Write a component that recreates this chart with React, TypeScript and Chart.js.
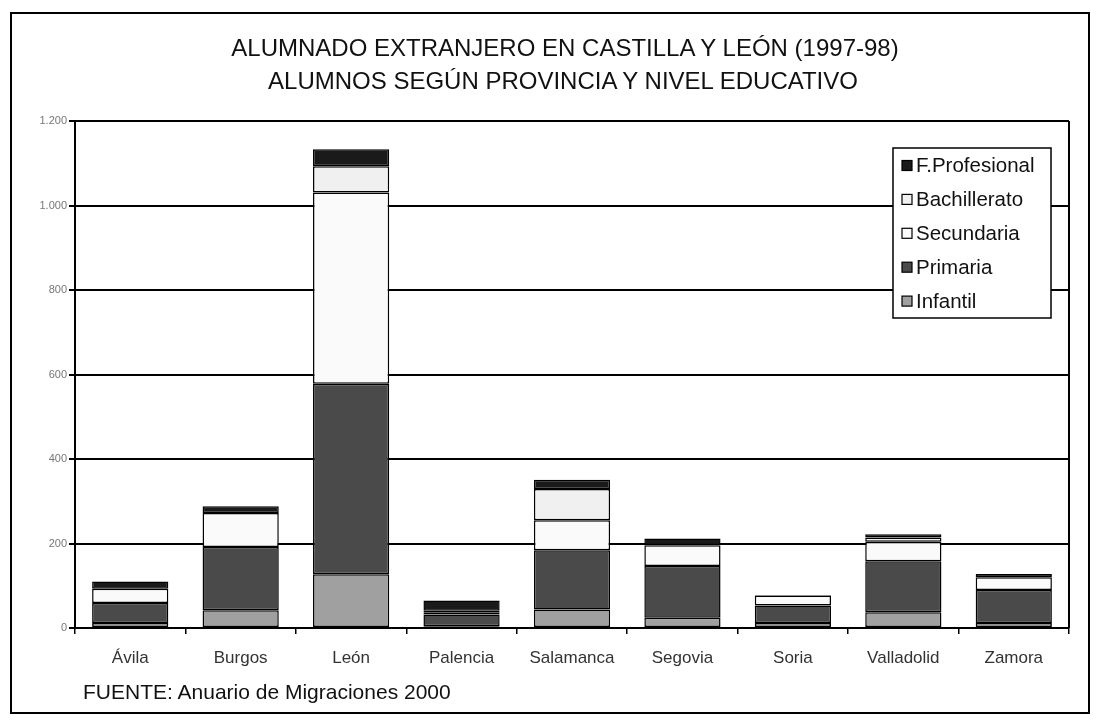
import React, { useEffect, useRef } from "react";
import { Chart, registerables } from "chart.js";

Chart.register(...registerables);

const categories = ["Ávila", "Burgos", "León", "Palencia", "Salamanca", "Segovia", "Soria", "Valladolid", "Zamora"];
const infantil = [12, 42, 127, 4, 44, 24, 12, 37, 12];
const primaria = [47, 150, 451, 28, 140, 123, 41, 121, 78];
const secundaria = [34, 80, 453, 5, 71, 49, 24, 46, 30];
const bachillerato = [null, null, 62, 4, 74, null, null, 10, null];
const fProfesional = [17, 16, 40, 24, 22, 16, 1, 8, 8];
const yTicks = [0, 200, 400, 600, 800, 1000, 1200];

const titleLine1 = "ALUMNADO EXTRANJERO EN CASTILLA Y LEÓN (1997-98)";
const titleLine2 = "ALUMNOS SEGÚN PROVINCIA Y NIVEL EDUCATIVO";
const sourceText = "FUENTE: Anuario de Migraciones 2000";

const FONT = "'Liberation Sans', Arial, sans-serif";

const frameAndLegend = {
  id: "frameAndLegend",
  afterDraw(chart: any) {
    const { ctx, chartArea } = chart;
    ctx.save();
    ctx.strokeStyle = "#000";
    ctx.lineWidth = 2;
    ctx.beginPath();
    ctx.moveTo(chartArea.right, chartArea.top);
    ctx.lineTo(chartArea.right, chartArea.bottom);
    ctx.stroke();
    const lx = 893, ly = 148, lw = 158, lh = 170;
    ctx.fillStyle = "#fff";
    ctx.fillRect(lx, ly, lw, lh);
    ctx.lineWidth = 1.5;
    ctx.strokeRect(lx, ly, lw, lh);
    const ds = chart.data.datasets.slice().reverse();
    ctx.font = `20.5px ${FONT}`;
    ctx.textBaseline = "middle";
    ds.forEach((d: any, i: number) => {
      const cy = 165.5 + i * 33.9;
      ctx.fillStyle = d.backgroundColor;
      ctx.fillRect(902, cy - 5, 10, 10);
      ctx.lineWidth = 1.2;
      ctx.strokeStyle = "#000";
      ctx.strokeRect(902, cy - 5, 10, 10);
      ctx.fillStyle = "#111";
      ctx.fillText(d.label, 916, cy + 1);
    });
    ctx.restore();
  },
};

export default function App() {
  const ref = useRef<HTMLCanvasElement>(null);
  useEffect(() => {
    if (!ref.current) return;
    const mk = (label: string, data: (number | null)[], color: string) => ({
      label,
      data,
      backgroundColor: color,
      borderColor: "#000",
      borderWidth: 1.5,
      borderSkipped: false,
      barPercentage: 0.69,
      categoryPercentage: 1,
    });
    const chart = new Chart(ref.current, {
      type: "bar",
      data: {
        labels: categories,
        datasets: [
          mk("Infantil", infantil, "#a0a0a0"),
          mk("Primaria", primaria, "#4a4a4a"),
          mk("Secundaria", secundaria, "#fafafa"),
          mk("Bachillerato", bachillerato, "#f0f0f0"),
          mk("F.Profesional", fProfesional, "#1a1a1a"),
        ],
      },
      options: {
        responsive: false,
        animation: false,
        layout: { padding: { left: 0, top: 121, right: 34, bottom: 46 } },
        plugins: { legend: { display: false }, title: { display: false }, tooltip: { enabled: false } },
        scales: {
          x: {
            stacked: true,
            grid: { offset: true, drawOnChartArea: false, drawTicks: true, tickLength: 6, color: "#000", lineWidth: 1.5 },
            border: { color: "#000", width: 2 },
            ticks: { color: "#333", font: { family: FONT, size: 17 }, padding: 14, maxRotation: 0 },
            afterFit: (s: any) => { s.height = 50; },
          },
          y: {
            stacked: true,
            min: 0,
            max: 1200,
            afterBuildTicks: (s: any) => { s.ticks = yTicks.map((v) => ({ value: v })); },
            grid: { color: "#000", lineWidth: 2, tickLength: 6 },
            border: { color: "#000", width: 2 },
            ticks: {
              color: "#777",
              font: { family: FONT, size: 11 },
              padding: 2,
              callback: (v: any) => Number(v).toLocaleString("de-DE"),
            },
            afterFit: (s: any) => { s.width = 75; },
          },
        },
      },
      plugins: [frameAndLegend],
    });
    return () => chart.destroy();
  }, []);

  return (
    <div style={{ position: "fixed", left: 0, top: 0, width: 1103, height: 724, background: "#fff", fontFamily: FONT }}>
      <div style={{ position: "absolute", left: 10, top: 12, width: 1080, height: 702, border: "2px solid #000", boxSizing: "border-box" }} />
      <canvas ref={ref} width={1103} height={724} style={{ position: "absolute", left: 0, top: 0 }} />
      <div style={{ position: "absolute", left: 0, width: 1130, top: 36, textAlign: "center", fontSize: 24, lineHeight: "24px", color: "#111" }}>{titleLine1}</div>
      <div style={{ position: "absolute", left: 0, width: 1126, top: 69, textAlign: "center", fontSize: 24, lineHeight: "24px", color: "#111" }}>{titleLine2}</div>
      <div style={{ position: "absolute", left: 83, top: 681, fontSize: 21, lineHeight: "21px", color: "#111" }}>{sourceText}</div>
    </div>
  );
}
